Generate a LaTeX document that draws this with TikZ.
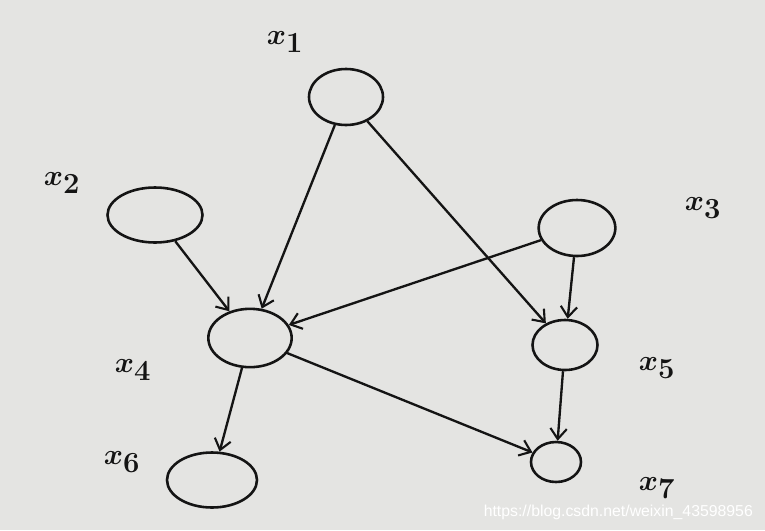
\documentclass[tikz,border=0pt]{standalone}
\usepackage{fontspec}
\usepackage{tikz}
\usetikzlibrary{shapes.geometric,arrows.meta,positioning}
\newfontfamily\wmfont{Liberation Sans}
\definecolor{paper}{RGB}{228,228,226}
\definecolor{pen}{RGB}{20,20,20}

\begin{document}
\begin{tikzpicture}[
  x=0.03cm,y=-0.03cm,
  var/.style={draw=pen,ellipse,line width=2.2pt,inner sep=0pt},
  lab/.style={font=\fontsize{34}{36}\selectfont\boldmath,text=pen},
  arr/.style={-{Straight Barb[length=9pt,width=14pt,line width=1.8pt]},line width=2pt,draw=pen},
]

% 背景
\fill[paper] (0,0) rectangle (765,530);

% 变量节点
\node[var,minimum width=2.22cm,minimum height=1.68cm] (x1) at (346,97) {};
\node[var,minimum width=2.85cm,minimum height=1.65cm] (x2) at (155,215) {};
\node[var,minimum width=2.3cm,minimum height=1.68cm] (x3) at (577,228) {};
\node[var,minimum width=2.5cm,minimum height=1.75cm] (x4) at (250,338) {};
\node[var,minimum width=1.95cm,minimum height=1.5cm] (x5) at (565,345) {};
\node[var,minimum width=2.7cm,minimum height=1.65cm] (x6) at (212,480) {};
\node[var,minimum width=1.5cm,minimum height=1.2cm] (x7) at (556,462) {};

% 标签
\node[lab] (lx1) at (285,42) {$x_1$};
\node[lab] (lx2) at (62,183) {$x_2$};
\node[lab] (lx3) at (703,208) {$x_3$};
\node[lab] (lx4) at (133,370) {$x_4$};
\node[lab] (lx5) at (657,368) {$x_5$};
\node[lab] (lx6) at (122,462) {$x_6$};
\node[lab] (lx7) at (657,488) {$x_7$};

% 边
\draw[arr] (x1) -- (x4);
\draw[arr] (x1) -- (x5);
\draw[arr] (x2) -- (x4);
\draw[arr] (x3) -- (x4);
\draw[arr] (x3) -- (x5);
\draw[arr] (x4) -- (x6);
\draw[arr] (x4) -- (x7);
\draw[arr] (x5) -- (x7);

% 水印
\node[font=\wmfont\fontsize{13.5}{15}\selectfont,text=white,anchor=east] (wm) at (757,512) {https://blog.csdn.net/weixin\_43598956};

\end{tikzpicture}
\end{document}
